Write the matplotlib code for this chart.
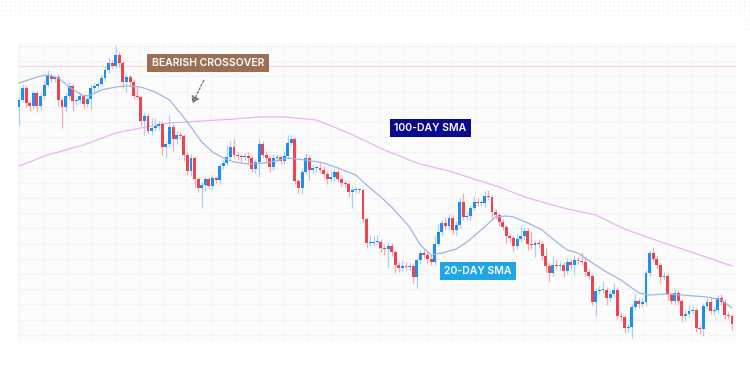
import numpy as np
import matplotlib
matplotlib.use("Agg")
import matplotlib.pyplot as plt
from matplotlib.ticker import MultipleLocator

# daily closes (price units) left to right
closes = [250, 262, 247, 244, 257, 244, 254, 265, 274, 271,
          273, 250, 243, 254, 264, 249, 250, 254, 246, 251,
          262, 264, 266, 272, 280, 287, 284, 295, 287, 268,
          273, 268, 254, 253, 229, 234, 219, 222, 224, 226,
          203, 206, 223, 211, 215, 214, 195, 179, 192, 171,
          162, 165, 171, 164, 172, 170, 184, 187, 193, 203,
          195, 194, 193, 194, 192, 181, 188, 206, 195, 192,
          183, 192, 193, 189, 194, 207, 211, 169, 162, 178,
          192, 180, 182, 182, 180, 176, 171, 173, 178, 171,
          167, 166, 158, 160, 160, 160, 131, 107, 107, 108,
          108, 102, 101, 104, 98, 85, 82, 84, 83, 84,
          73, 90, 97, 95, 91, 88, 106, 118, 127, 124,
          132, 120, 125, 148, 133, 134, 142, 148, 147, 147,
          154, 153, 138, 135, 128, 123, 114, 112, 104, 111,
          114, 119, 106, 105, 107, 106, 94, 84, 77, 85,
          84, 85, 79, 88, 85, 90, 89, 88, 78, 74,
          48, 59, 60, 60, 52, 56, 60, 34, 33, 22,
          23, 43, 49, 46, 48, 77, 97, 91, 85, 73,
          74, 56, 49, 57, 49, 34, 36, 39, 40, 22,
          21, 44, 48, 39, 40, 52, 48, 35, 34, 26]
first_open = 243

# wick lengths above / below the body
wick_up = [3, 4, 3, 2, 3, 2, 3, 4, 6, 3, 2, 3, 2, 3, 4, 3, 2, 3, 2, 3,
           4, 3, 2, 3, 4, 5, 3, 9, 3, 2, 3, 2, 3, 10, 2, 3, 2, 10, 8, 3,
           3, 3, 12, 3, 4, 3, 2, 3, 4, 2, 2, 3, 3, 2, 3, 2, 3, 4, 12, 6,
           8, 3, 2, 3, 4, 2, 3, 5, 3, 4, 3, 4, 3, 2, 5, 8, 4, 2, 2, 3,
           5, 3, 4, 3, 5, 4, 3, 6, 3, 2, 3, 3, 2, 3, 3, 2, 2, 2, 8, 6,
           7, 3, 3, 4, 3, 2, 3, 6, 4, 3, 3, 2, 3, 4, 3, 5, 8, 8, 3, 6,
           4, 3, 4, 4, 9, 4, 3, 6, 4, 3, 5, 6, 2, 3, 2, 3, 2, 3, 2, 5,
           10, 4, 3, 13, 3, 4, 3, 8, 3, 9, 6, 4, 3, 4, 3, 5, 3, 9, 5, 3,
           2, 3, 4, 8, 3, 4, 7, 3, 4, 2, 3, 3, 8, 3, 4, 3, 3, 6, 3, 2,
           4, 3, 2, 5, 3, 2, 4, 6, 4, 2, 3, 3, 4, 5, 3, 3, 4, 3, 3, 2]
wick_down = [18, 2, 4, 5, 3, 6, 4, 3, 2, 3, 3, 6, 21, 4, 3, 10, 4, 3, 5, 3,
             10, 5, 3, 2, 3, 3, 2, 2, 4, 6, 10, 4, 3, 2, 5, 14, 3, 4, 3, 4,
             8, 11, 3, 12, 5, 3, 6, 4, 5, 8, 4, 20, 6, 3, 4, 3, 4, 3, 2, 2,
             3, 4, 5, 3, 5, 3, 4, 15, 3, 4, 5, 3, 4, 3, 3, 3, 2, 3, 5, 6,
             2, 10, 3, 4, 3, 3, 5, 3, 4, 3, 4, 3, 5, 16, 3, 3, 3, 5, 3, 3,
             2, 4, 6, 18, 4, 8, 4, 3, 3, 4, 6, 11, 4, 3, 5, 3, 3, 2, 4, 3,
             3, 4, 5, 3, 3, 3, 4, 2, 3, 3, 4, 3, 6, 4, 4, 3, 7, 4, 6, 3,
             3, 4, 6, 4, 12, 3, 4, 6, 8, 3, 3, 4, 6, 3, 4, 10, 3, 3, 4, 3,
             3, 14, 3, 3, 7, 3, 3, 3, 4, 5, 4, 11, 3, 4, 3, 4, 3, 3, 4, 6,
             3, 6, 3, 3, 4, 6, 4, 3, 3, 4, 5, 7, 3, 3, 4, 3, 3, 4, 3, 6]

# moving averages, sampled along the curves
sma20_day = [0, 6, 8, 11, 14, 18, 20, 23, 27, 30, 34, 38, 42, 45, 48, 51, 54, 57,
             60, 64, 69, 75, 80, 85, 89, 94, 97, 101, 104, 109, 112, 115, 118, 122,
             125, 129, 133, 136, 138, 142, 146, 150, 153, 156, 160, 164, 168, 173,
             176, 180, 185, 192, 196, 199]
sma20_val = [267, 274, 275, 272, 263, 254, 255, 260, 263, 264, 263, 258, 250, 237,
             223, 208, 198, 192, 188, 186, 187, 192, 190, 187, 182, 175, 165, 153,
             143, 123, 105, 95, 97, 101, 108, 120, 133, 134, 133, 127, 120, 108,
             100, 97, 87, 78, 70, 57, 55, 56, 55, 53, 50, 42]
sma100_day = [0, 8, 18, 27, 34, 42, 51, 60, 67, 74, 83, 92, 102, 111, 120, 134,
              142, 152, 161, 169, 180, 190, 199]
sma100_val = [184, 195, 205, 217, 222, 227, 229, 231, 233, 233, 230, 217, 200,
              187, 179, 163, 152, 142, 135, 121, 107, 95, 84]
resistance = 284

c = np.array(closes, float)
o = np.r_[first_open, c[:-1]]
top = np.maximum(o, c)
bot = np.minimum(o, c)
hi = top + np.array(wick_up)
lo = bot - np.array(wick_down)
days = np.arange(len(c))
bull = c >= o

BLUE, RED = "#1f8ef1", "#ee4450"
BLUE_W, RED_W = "#a9cff5", "#f5a9b0"

fig = plt.figure(figsize=(7.5, 3.67), dpi=100)

# dotted header pattern
hd = fig.add_axes([0, 1 - 42 / 367, 1, 42 / 367])
hd.set_xlim(0, 750)
hd.set_ylim(42, 0)
hd.axis("off")
gx, gy = np.meshgrid(np.arange(2, 750, 4.5), np.arange(2, 40, 4.5))
hd.scatter(gx.ravel(), gy.ravel(), s=0.5, color="#dadada",
           alpha=np.clip(1 - gy.ravel() / 42, 0.1, 1), linewidths=0)

ax = fig.add_axes([18 / 750, 25 / 367, 718 / 750, 299 / 367])
ax.set_facecolor("#fcfcfc")
ax.set_xlim(-0.28, 200.1)
ax.set_ylim(8, 307)
ax.xaxis.set_major_locator(MultipleLocator(6.7))
ax.yaxis.set_major_locator(MultipleLocator(15.2))
ax.grid(True, color="#f3f3f3", lw=0.8)
ax.tick_params(length=0, labelbottom=False, labelleft=False)
for s in ax.spines.values():
    s.set_visible(False)

ax.axhline(resistance, color="#f8d3d8", lw=0.9, zorder=1)
ax.plot(sma100_day, sma100_val, color="#e8b6f0", lw=0.9, zorder=2)

ax.vlines(days, lo, hi, colors=np.where(bull, BLUE_W, RED_W), lw=0.9, zorder=3)
ax.bar(days, np.maximum(top - bot, 1.3), bottom=bot, width=0.8,
       color=np.where(bull, BLUE, RED), zorder=4, linewidth=0)

ax.plot(sma20_day, sma20_val, color="#9db7df", lw=0.9, zorder=5)


def tag(x, y, text, fc):
    fig.text(x / 750, 1 - y / 367, text, ha="center", va="center", color="white",
             fontsize=7.5, fontweight="semibold", family="Inter",
             bbox=dict(boxstyle="square,pad=0.42", fc=fc, ec="none"))


tag(208, 63, "BEARISH CROSSOVER", "#9b6f55")
tag(430, 128, "100-DAY SMA", "#0a0a8c")
tag(478, 271, "20-DAY SMA", "#20a6e8")

fig.patches.append(matplotlib.patches.FancyArrowPatch(
    (205 / 750, 1 - 78 / 367), (191 / 750, 1 - 106 / 367),
    transform=fig.transFigure, arrowstyle="-|>,head_length=4,head_width=2.5",
    linestyle=(0, (1.5, 1.5)), color="#7a7a7a", lw=1.0, figure=fig))

fig.savefig("out.png", dpi=100)
